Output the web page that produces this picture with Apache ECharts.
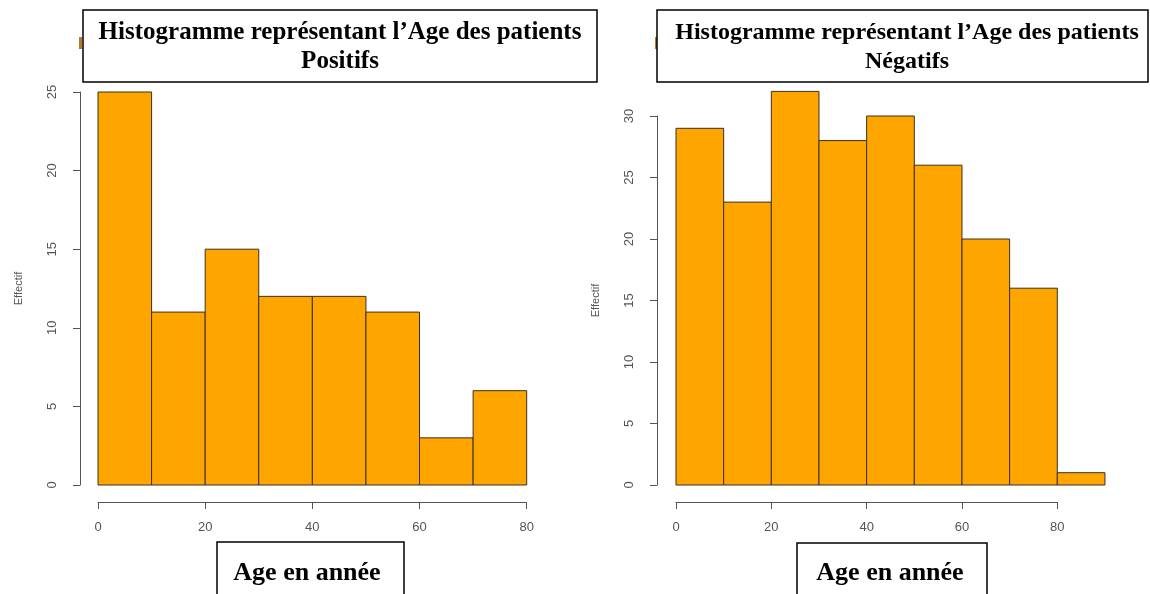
<!DOCTYPE html>
<html>
<head>
<meta charset="utf-8">
<script src="https://cdn.jsdelivr.net/npm/echarts@6/dist/echarts.min.js"></script>
<style>html,body{margin:0;padding:0;background:#fff}#c{width:1150px;height:594px}</style>
</head>
<body>
<div id="c"></div>
<script>
// ---- data ----
const binEdgesPos = [0, 10, 20, 30, 40, 50, 60, 70, 80];
const countsPos = [25, 11, 15, 12, 12, 11, 3, 6];
const binEdgesNeg = [0, 10, 20, 30, 40, 50, 60, 70, 80, 90];
const countsNeg = [29, 23, 32, 28, 30, 26, 20, 16, 1];
const xTicks = [0, 20, 40, 60, 80];
const yTicksPos = [0, 5, 10, 15, 20, 25];
const yTicksNeg = [0, 5, 10, 15, 20, 25, 30];
const titleLine1 = 'Histogramme représentant l’Age des patients';
const titlePos = 'Positifs';
const titleNeg = 'Négatifs';
const xName = 'Age en année';
const yName = 'Effectif';

function toBins(edges, counts) {
  return counts.map((c, i) => [edges[i], edges[i + 1], c]);
}

const chart = echarts.init(document.getElementById('c'), null, {renderer: 'canvas'});

const axisCol = '#555';
const hiddenAxis = {show: false, splitLine: {show: false}};
function shownX(ticks, offset) {
  return {
    type: 'value', min: ticks[0], max: ticks[ticks.length - 1], interval: ticks[1] - ticks[0],
    offset: offset, splitLine: {show: false},
    axisLine: {show: true, onZero: false, lineStyle: {color: axisCol, width: 1}},
    axisTick: {show: true, length: 7, inside: false, lineStyle: {color: axisCol}},
    axisLabel: {color: '#555', fontSize: 13, fontFamily: 'Liberation Sans', margin: 19, showMinLabel: true, showMaxLabel: true}
  };
}
function shownY(ticks, offset) {
  return {
    type: 'value', min: ticks[0], max: ticks[ticks.length - 1], interval: ticks[1] - ticks[0],
    offset: offset, splitLine: {show: false},
    axisLine: {show: true, onZero: false, lineStyle: {color: axisCol, width: 1}},
    axisTick: {show: true, length: 7, lineStyle: {color: axisCol}},
    axisLabel: {color: '#555', fontSize: 13, fontFamily: 'Liberation Sans', rotate: 90, margin: 21, showMinLabel: true, showMaxLabel: true},
    name: yName, nameLocation: 'middle', nameRotate: 90, nameGap: 56,
    nameTextStyle: {color: '#555', fontSize: 11, fontFamily: 'Liberation Sans'}
  };
}

function renderBar(params, api) {
  const p0 = api.coord([api.value(0), 0]);
  const p1 = api.coord([api.value(1), api.value(2)]);
  return {
    type: 'rect',
    shape: {x: p0[0], y: p1[1], width: p1[0] - p0[0], height: p0[1] - p1[1]},
    style: {fill: '#FFA500', stroke: '#3a3020', lineWidth: 1}
  };
}

const unitPosX = 428.7 / 80, unitPosY = 393 / 25;
const unitNegX = 381.3 / 80, unitNegY = 369 / 30;
const maxNegY = 32;

const titleFontL = 'bold 25px "Liberation Serif"';
const titleFontR = 'bold 24px "Liberation Serif"';
const xNameFont = 'bold 26px "Liberation Serif"';

const option = {
  animation: false,
  backgroundColor: '#fff',
  grid: [
    {left: 98, top: 485 - 25 * unitPosY, width: 80 * unitPosX, height: 25 * unitPosY},
    {left: 98, top: 485 - 25 * unitPosY, width: 80 * unitPosX, height: 25 * unitPosY},
    {left: 676, top: 485 - maxNegY * unitNegY, width: 90 * unitNegX, height: maxNegY * unitNegY},
    {left: 676, top: 485 - 30 * unitNegY, width: 80 * unitNegX, height: 30 * unitNegY}
  ],
  xAxis: [
    Object.assign({type: 'value', gridIndex: 0, min: 0, max: 80}, hiddenAxis),
    Object.assign(shownX(xTicks, 17), {gridIndex: 1}),
    Object.assign({type: 'value', gridIndex: 2, min: 0, max: 90}, hiddenAxis),
    Object.assign(shownX(xTicks, 17), {gridIndex: 3})
  ],
  yAxis: [
    Object.assign({type: 'value', gridIndex: 0, min: 0, max: 25}, hiddenAxis),
    Object.assign(shownY(yTicksPos, 18), {gridIndex: 1}),
    Object.assign({type: 'value', gridIndex: 2, min: 0, max: maxNegY}, hiddenAxis),
    Object.assign(shownY(yTicksNeg, 19), {gridIndex: 3})
  ],
  series: [
    {type: 'custom', xAxisIndex: 0, yAxisIndex: 0, renderItem: renderBar,
     encode: {x: [0, 1], y: 2}, data: toBins(binEdgesPos, countsPos)},
    {type: 'custom', xAxisIndex: 2, yAxisIndex: 2, renderItem: renderBar,
     encode: {x: [0, 1], y: 2}, data: toBins(binEdgesNeg, countsNeg)}
  ],
  graphic: [
    {type: 'rect', shape: {x: 79, y: 37, width: 3, height: 12}, style: {fill: '#b8782a'}},
    {type: 'rect', shape: {x: 655, y: 37, width: 3, height: 12}, style: {fill: '#b8782a'}},
    {type: 'rect', shape: {x: 83, y: 10, width: 514, height: 72}, style: {fill: '#fff', stroke: '#000', lineWidth: 1.5}, z: 10},
    {type: 'rect', shape: {x: 657, y: 10, width: 491, height: 72}, style: {fill: '#fff', stroke: '#000', lineWidth: 1.5}, z: 10},
    {type: 'text', x: 340, y: 33, z: 11, style: {text: titleLine1, align: 'center', verticalAlign: 'middle', font: titleFontL, fill: '#000'}},
    {type: 'text', x: 340, y: 62, z: 11, style: {text: titlePos, align: 'center', verticalAlign: 'middle', font: titleFontL, fill: '#000'}},
    {type: 'text', x: 907, y: 33, z: 11, style: {text: titleLine1, align: 'center', verticalAlign: 'middle', font: titleFontR, fill: '#000'}},
    {type: 'text', x: 907, y: 62, z: 11, style: {text: titleNeg, align: 'center', verticalAlign: 'middle', font: titleFontR, fill: '#000'}},
    {type: 'rect', shape: {x: 217, y: 542, width: 187, height: 60}, style: {fill: '#fff', stroke: '#000', lineWidth: 1.5}, z: 10},
    {type: 'rect', shape: {x: 797, y: 543, width: 190, height: 60}, style: {fill: '#fff', stroke: '#000', lineWidth: 1.5}, z: 10},
    {type: 'text', x: 307, y: 573, z: 11, style: {text: xName, align: 'center', verticalAlign: 'middle', font: xNameFont, fill: '#000'}},
    {type: 'text', x: 890, y: 573, z: 11, style: {text: xName, align: 'center', verticalAlign: 'middle', font: xNameFont, fill: '#000'}}
  ]
};
chart.setOption(option);
</script>
</body>
</html>
